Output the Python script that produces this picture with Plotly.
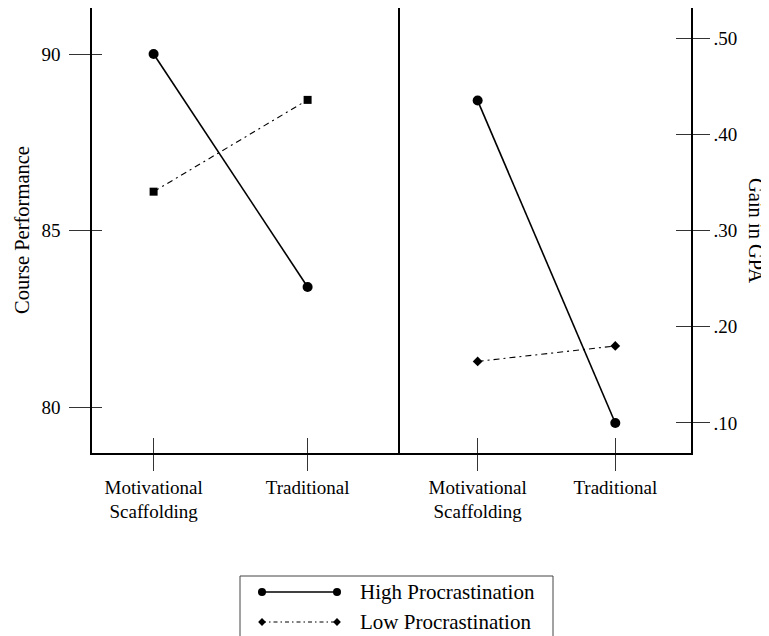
import plotly.graph_objects as go

# ---------------- data ----------------
conditions = ["Motivational<br>Scaffolding", "Traditional"]
series_names = ["High Procrastination", "Low Procrastination"]
course_high = [90.0, 83.4]
course_low = [86.1, 88.7]
gpa_high = [0.435, 0.10]
gpa_low = [0.164, 0.180]
course_ticks = [80, 85, 90]
gpa_ticks = [0.10, 0.20, 0.30, 0.40, 0.50]
gpa_ticktext = [".10", ".20", ".30", ".40", ".50"]

# ---------------- layout geometry (page pixels) ----------------
W, H = 769, 636
OFF = 8  # default page body margin
L, R, T, B, DIV = 92 - OFF, 691 - OFF, 8 - OFF, 453 - OFF, 400 - OFF
PW, PH = R - L, H - T
xd = (DIV - L) / PW
ybot = (H - B) / PH


def px_x(p):
    return (p - OFF - L) / PW


def px_y(p):
    return (H - (p - OFF)) / PH


FONT = "Liberation Serif, Times New Roman, serif"
TICK_FS = 19
TITLE_FS = 20.5
LEG_FS = 21

idx = list(range(len(conditions)))

fig = go.Figure()

high_line = dict(color="black", width=1.6)
low_line = dict(color="black", width=1.1, dash="6px,4px,2px,4px")

# left panel
fig.add_trace(go.Scatter(x=conditions, y=course_high, mode="lines+markers", name=series_names[0],
                         line=high_line, marker=dict(symbol="circle", size=10, color="black"),
                         xaxis="x", yaxis="y", showlegend=False))
fig.add_trace(go.Scatter(x=conditions, y=course_low, mode="lines+markers", name=series_names[1],
                         line=low_line, marker=dict(symbol="square", size=8, color="black"),
                         xaxis="x", yaxis="y", showlegend=False))
# right panel
fig.add_trace(go.Scatter(x=conditions, y=gpa_high, mode="lines+markers", name=series_names[0],
                         line=high_line, marker=dict(symbol="circle", size=10, color="black"),
                         xaxis="x2", yaxis="y2", showlegend=False))
fig.add_trace(go.Scatter(x=conditions, y=gpa_low, mode="lines+markers", name=series_names[1],
                         line=low_line, marker=dict(symbol="diamond", size=7.5, color="black"),
                         xaxis="x2", yaxis="y2", showlegend=False))
# placeholder traces for overlay tick axes
fig.add_trace(go.Scatter(x=[], y=[], xaxis="x3", yaxis="y3", showlegend=False, hoverinfo="skip"))
fig.add_trace(go.Scatter(x=[], y=[], xaxis="x4", yaxis="y4", showlegend=False, hoverinfo="skip"))

# custom legend samples
fig.add_trace(go.Scatter(x=[0, 1], y=[0, 0], mode="lines+markers", line=dict(color="black", width=1.4),
                         marker=dict(symbol="circle", size=8, color="black"),
                         xaxis="x5", yaxis="y5", showlegend=False, hoverinfo="skip"))
fig.add_trace(go.Scatter(x=[0, 1], y=[1, 1], mode="lines+markers",
                         line=dict(color="black", width=1, dash="4px,3px,1.5px,3px"),
                         marker=dict(symbol="diamond", size=6, color="black"),
                         xaxis="x5", yaxis="y5", showlegend=False, hoverinfo="skip"))

tickfont = dict(family=FONT, size=TICK_FS, color="black")
line_kw = dict(showline=True, linecolor="black", linewidth=1.5, showgrid=False, zeroline=False)
tick_kw = dict(tickcolor="#333", tickwidth=1.1)

c_range = [78.697, 91.303]
g_range = [0.0688, 0.5312]
x1_range = [-0.4, 1.6]
x2_range = [-0.564, 1.55]

fig.update_layout(
    width=W, height=H,
    margin=dict(l=L, r=W - R, t=T, b=0, pad=0),
    paper_bgcolor="white", plot_bgcolor="white",
    font=dict(family=FONT, color="black"),
    showlegend=False,
    xaxis=dict(domain=[0, xd], anchor="y", type="category", categoryorder="array",
               categoryarray=conditions, range=x1_range, ticks="outside", ticklen=16,
               tickfont=tickfont, ticklabelstandoff=0, **line_kw, **tick_kw),
    yaxis=dict(domain=[ybot, 1], anchor="x", range=c_range, tickvals=course_ticks,
               ticks="outside", ticklen=21, tickfont=tickfont, ticklabelstandoff=5,
               **line_kw, **tick_kw),
    xaxis2=dict(domain=[xd, 1], anchor="y2", type="category", categoryorder="array",
                categoryarray=conditions, range=x2_range, ticks="outside", ticklen=16,
                tickfont=tickfont, ticklabelstandoff=0, **line_kw, **tick_kw),
    yaxis2=dict(domain=[ybot, 1], anchor="x2", side="right", range=g_range,
                tickvals=gpa_ticks, ticktext=gpa_ticktext, ticks="outside", ticklen=17,
                tickfont=tickfont, mirror=True, **line_kw, **tick_kw),
    xaxis3=dict(domain=[0, xd], anchor="y3", overlaying="x", range=x1_range, tickvals=idx,
                ticks="inside", ticklen=15, showticklabels=False, showline=False,
                showgrid=False, zeroline=False, **tick_kw),
    yaxis3=dict(domain=[ybot, 1], anchor="x3", overlaying="y", range=c_range,
                tickvals=course_ticks, ticks="inside", ticklen=10, showticklabels=False,
                showline=False, showgrid=False, zeroline=False, **tick_kw),
    xaxis4=dict(domain=[xd, 1], anchor="y4", overlaying="x2", range=x2_range, tickvals=idx,
                ticks="inside", ticklen=15, showticklabels=False, showline=False,
                showgrid=False, zeroline=False, **tick_kw),
    yaxis4=dict(domain=[ybot, 1], anchor="x4", overlaying="y2", side="right", range=g_range,
                tickvals=gpa_ticks, ticks="inside", ticklen=15, showticklabels=False,
                showline=False, showgrid=False, zeroline=False, **tick_kw),
    xaxis5=dict(domain=[px_x(240), px_x(553)], anchor="y5", range=[-22 / 75, 291 / 75],
                visible=False),
    yaxis5=dict(domain=[0, px_y(576)], anchor="x5",
                range=[(H + OFF - 592) / 30, -16 / 30], visible=False),
)

# axis titles
fig.add_annotation(text="Course Performance", xref="paper", yref="paper",
                   x=px_x(22), y=px_y(230), xanchor="center", yanchor="middle",
                   textangle=-90, showarrow=False, font=dict(family=FONT, size=TITLE_FS, color="black"))
fig.add_annotation(text="Gain in GPA", xref="paper", yref="paper",
                   x=px_x(756), y=px_y(230), xanchor="center", yanchor="middle",
                   textangle=90, showarrow=False, font=dict(family=FONT, size=TITLE_FS, color="black"))

# legend labels
for i, nm in enumerate(series_names):
    fig.add_annotation(text=nm, xref="x5", yref="y5", x=96 / 75, y=i, xanchor="left",
                       yanchor="middle", showarrow=False,
                       font=dict(family=FONT, size=LEG_FS, color="black"))

# legend box (bottom edge falls outside the page)
box = dict(color="#444", width=1)
fig.add_shape(type="line", xref="x5 domain", yref="y5 domain", x0=0, x1=0, y0=0, y1=1, line=box)
fig.add_shape(type="line", xref="x5 domain", yref="y5 domain", x0=0, x1=1, y0=1, y1=1, line=box)
fig.add_shape(type="line", xref="x5 domain", yref="y5 domain", x0=1, x1=1, y0=0, y1=1, line=box)

fig.write_html("out.html")
